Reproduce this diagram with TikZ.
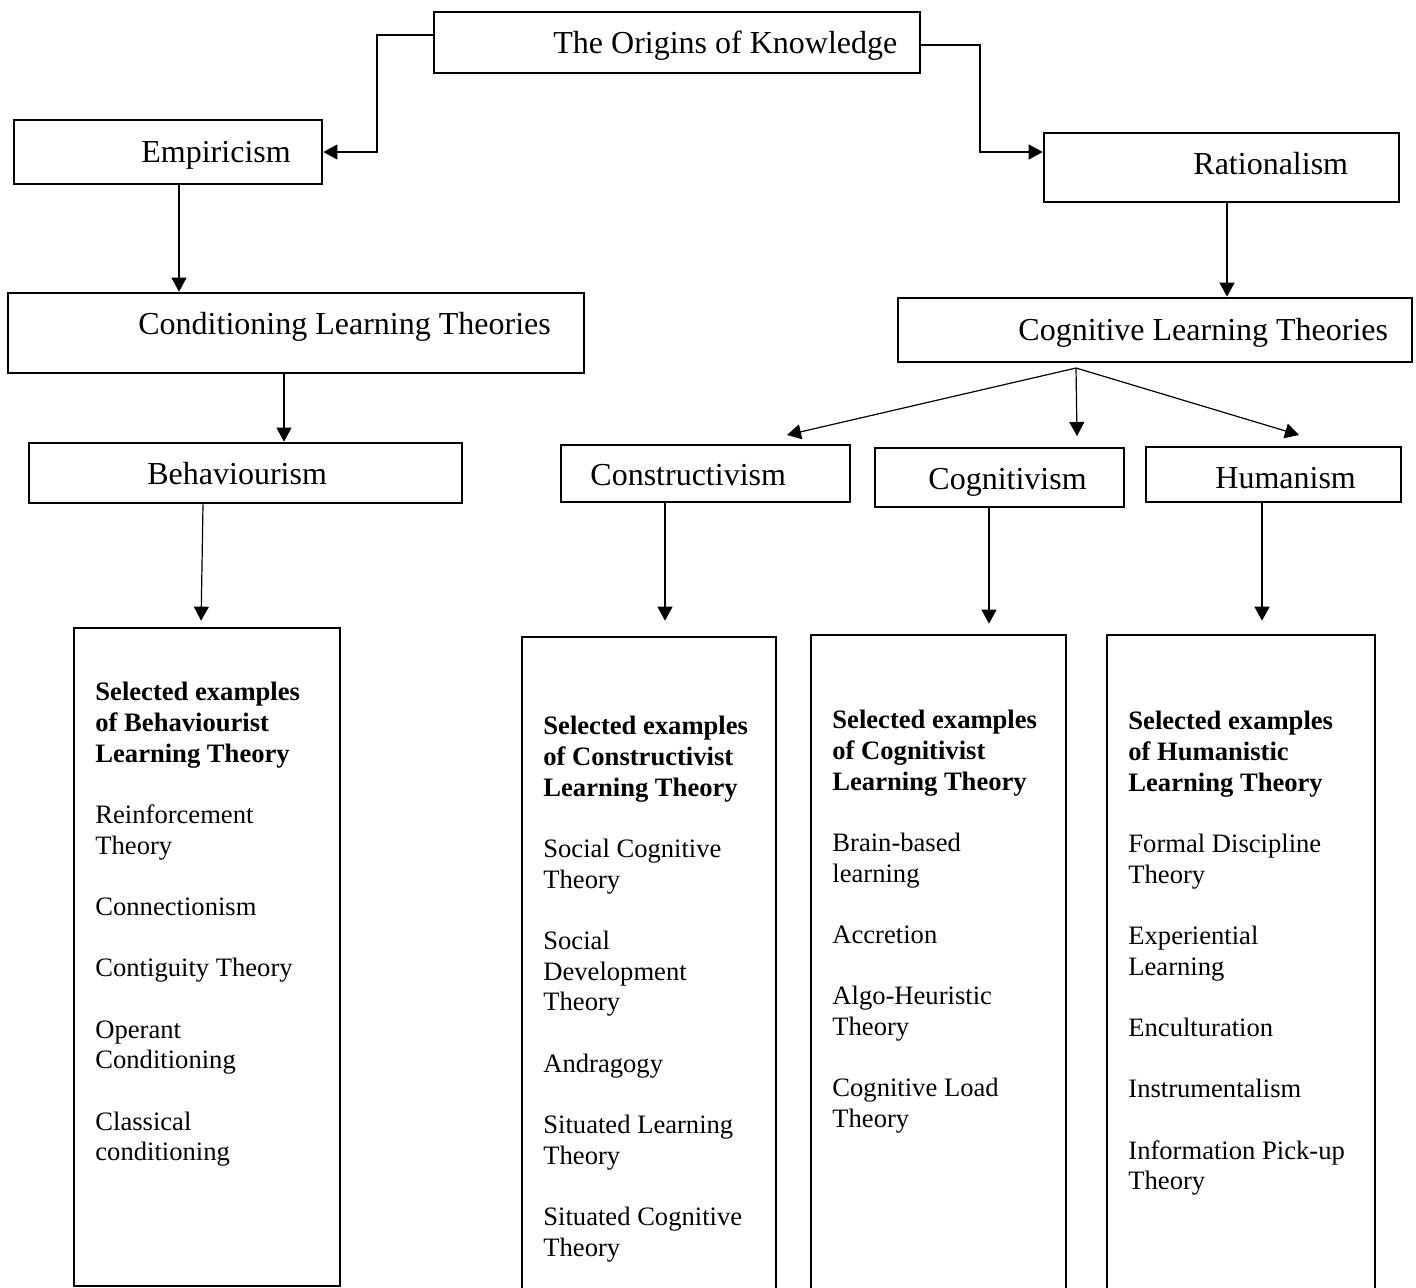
\documentclass[tikz,border=0pt]{standalone}
\usepackage{fontspec}
\setmainfont{Liberation Serif}
\usetikzlibrary{arrows.meta}

\begin{document}
\begin{tikzpicture}[x=0.5pt, y=-0.5pt,
        box/.style={draw, line width=1.35pt, rectangle, inner sep=0pt},
        lbl/.style={anchor=base west, inner sep=0pt, font=\fontsize{16pt}{19pt}\selectfont},
        listtext/.style={anchor=north west, inner sep=0pt, align=left, font=\fontsize{13.3pt}{15.33pt}\selectfont},
        conn/.style={line width=0.6pt, -{Triangle[length=7pt, width=7.5pt]}}]
        \useasboundingbox (0,0) rectangle (1416,1287);

        \node[box, minimum width=243pt, minimum height=30.5pt] (origins) at (677,42.5) {};
        \node[lbl] (origins-t) at (553,53) {The Origins of Knowledge};

        \node[box, minimum width=154pt, minimum height=32pt] (empir) at (168,152) {};
        \node[lbl] (empir-t) at (141,162) {Empiricism};

        \node[box, minimum width=177.5pt, minimum height=34.5pt] (ration) at (1221.5,167.5) {};
        \node[lbl] (ration-t) at (1193,174) {Rationalism};

        \node[box, minimum width=288pt, minimum height=40pt] (condit) at (296,333) {};
        \node[lbl] (condit-t) at (138,334) {Conditioning Learning Theories};

        \node[box, minimum width=257pt, minimum height=32pt] (cognit) at (1155,330) {};
        \node[lbl] (cognit-t) at (1018,340) {Cognitive Learning Theories};

        \node[box, minimum width=216.5pt, minimum height=30pt] (behav) at (245.5,473) {};
        \node[lbl] (behav-t) at (147,484) {Behaviourism};

        \node[box, minimum width=144.5pt, minimum height=28.5pt] (constr) at (705.5,473.5) {};
        \node[lbl] (constr-t) at (590,485) {Constructivism};

        \node[box, minimum width=124.5pt, minimum height=29.5pt] (cogniv) at (999.5,477.5) {};
        \node[lbl] (cogniv-t) at (928,489) {Cognitivism};

        \node[box, minimum width=127.5pt, minimum height=27.5pt] (human) at (1273.5,474.5) {};
        \node[lbl] (human-t) at (1215,488) {Humanism};

        % example boxes
        \node[box, minimum width=133pt, minimum height=329pt] (behlist) at (207,957) {};
        \node[listtext] (behlist-t) at (95,682) {\textbf{Selected examples}\\\textbf{of Behaviourist}\\\textbf{Learning Theory}\\[15.33pt]
            Reinforcement\\Theory\\[15.33pt]Connectionism\\[15.33pt]Contiguity Theory\\[15.33pt]
            Operant\\Conditioning\\[15.33pt]Classical\\conditioning};

        \node[box, minimum width=127pt, minimum height=341.5pt] (conlist) at (649,978.5) {};
        \node[listtext] (conlist-t) at (543,716) {\textbf{Selected examples}\\\textbf{of Constructivist}\\\textbf{Learning Theory}\\[15.33pt]
            Social Cognitive\\Theory\\[15.33pt]Social\\Development\\Theory\\[15.33pt]Andragogy\\[15.33pt]
            Situated Learning\\Theory\\[15.33pt]Situated Cognitive\\Theory};

        \node[box, minimum width=127.5pt, minimum height=342.5pt] (coglist) at (938.5,977.5) {};
        \node[listtext] (coglist-t) at (832,710) {\textbf{Selected examples}\\\textbf{of Cognitivist}\\\textbf{Learning Theory}\\[15.33pt]
            Brain-based\\learning\\[15.33pt]Accretion\\[15.33pt]Algo-Heuristic\\Theory\\[15.33pt]
            Cognitive Load\\Theory};

        \node[box, minimum width=134pt, minimum height=342.5pt] (humlist) at (1241,977.5) {};
        \node[listtext] (humlist-t) at (1128,711) {\textbf{Selected examples}\\\textbf{of Humanistic}\\\textbf{Learning Theory}\\[15.33pt]
            Formal Discipline\\Theory\\[15.33pt]Experiential\\Learning\\[15.33pt]Enculturation\\[15.33pt]
            Instrumentalism\\[15.33pt]Information Pick-up\\Theory};

        % connectors
        \coordinate (lbend) at (377,152);
        \coordinate (rbend) at (980,152);
        \draw[conn] (origins.west |- 0,35) -| (lbend) -- (empir.east);
        \draw[conn] (origins.east |- 0,45) -| (rbend) -- (ration.west |- 0,152);

        \draw[conn] (empir.south -| 179,0) -- (condit.north -| 179,0);
        \draw[conn] (condit.south -| 284,0) -- (behav.north -| 284,0);
        \draw[conn] (ration.south -| 1227,0) -- (cognit.north -| 1227,0);

        \coordinate (split) at (1076,368);
        \coordinate (tipcon) at (787,435);
        \coordinate (tipcog) at (1077,436);
        \coordinate (tiphum) at (1299,435);
        \draw[conn] (split) -- (tipcon);
        \draw[conn] (split) -- (tipcog);
        \draw[conn] (split) -- (tiphum);

        \draw[conn, shorten >=3pt] (behav.south -| 203,0) -- (behlist.north -| 201,0);
        \draw[conn, shorten >=7.5pt] (constr.south -| 665,0) -- (conlist.north -| 665,0);
        \draw[conn, shorten >=5pt] (cogniv.south -| 989,0) -- (coglist.north -| 989,0);
        \draw[conn, shorten >=6.5pt] (human.south -| 1262,0) -- (humlist.north -| 1262,0);
\end{tikzpicture}
\end{document}
